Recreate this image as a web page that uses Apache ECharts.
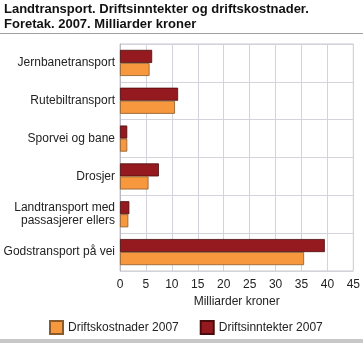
<!DOCTYPE html>
<html><head><meta charset="utf-8">
<script src="https://cdn.jsdelivr.net/npm/echarts@6/dist/echarts.min.js"></script>
<style>html,body{margin:0;padding:0;background:#fff}#c{width:363px;height:343px}</style>
</head><body><div id="c"></div>
<script>
const categories = ["Jernbanetransport","Rutebiltransport","Sporvei og bane","Drosjer","Landtransport med\npassasjerer ellers","Godstransport på vei"];
const kostnader = [5.7, 10.6, 1.4, 5.5, 1.6, 35.5];
const inntekter = [6.2, 11.2, 1.4, 7.5, 1.8, 39.5];
const seriesNames = ["Driftskostnader 2007","Driftsinntekter 2007"];
const xTicks = {min:0, max:45, interval:5};
const titleText = "Landtransport. Driftsinntekter og driftskostnader.\nForetak. 2007. Milliarder kroner";
const xName = "Milliarder kroner";

const chart = echarts.init(document.getElementById('c'), null, {renderer:'canvas'});
const font = '"Liberation Sans", Arial, sans-serif';
chart.setOption({
  animation:false,
  textStyle:{fontFamily:font},
  title:{text:titleText, left:4, top:2, padding:0, textStyle:{fontFamily:font, fontSize:13, fontWeight:'bold', color:'#111', lineHeight:15}},
  graphic:[
    {type:'line', shape:{x1:0,y1:33.5,x2:363,y2:33.5}, style:{stroke:'#a0a0a0', lineWidth:1}},
    {type:'rect', shape:{x:0,y:339,width:363,height:4}, style:{fill:'#c8c8c8'}}
  ],
  legend:{data:[seriesNames[0],seriesNames[1]], bottom:3, left:44, itemWidth:13, itemHeight:13, itemGap:21, icon:'rect',
    textStyle:{fontFamily:font, fontSize:12, color:'#222'}},
  grid:{left:120, right:7, top:44, bottom:72, show:true, borderColor:'#c8c8d0', borderWidth:1},
  xAxis:{type:'value', min:xTicks.min, max:xTicks.max, interval:xTicks.interval,
    name:xName, nameLocation:'middle', nameGap:24, nameTextStyle:{fontFamily:font, fontSize:12, color:'#222'},
    axisLine:{show:false}, axisTick:{show:false},
    axisLabel:{fontFamily:font, fontSize:12, color:'#222', margin:8},
    splitLine:{lineStyle:{color:'#d3d3dc', width:1}}},
  yAxis:{type:'category', data:categories, inverse:true,
    axisLine:{show:true, lineStyle:{color:'#b8b8c0'}}, axisTick:{show:false},
    axisLabel:{fontFamily:font, fontSize:12, color:'#222', margin:5, lineHeight:13},
    splitLine:{show:true, lineStyle:{color:'#d3d3dc', width:1}}},
  series:[
    {name:seriesNames[1], type:'bar', data:inntekter, barGap:'0%', barCategoryGap:'31%',
      itemStyle:{color:'#951a1f', borderColor:'#4a0c0c', borderWidth:0.8}},
    {name:seriesNames[0], type:'bar', data:kostnader, barGap:'0%', barCategoryGap:'31%',
      itemStyle:{color:'#f7983f', borderColor:'#8a5a2a', borderWidth:0.8}}
  ]
});
</script></body></html>
